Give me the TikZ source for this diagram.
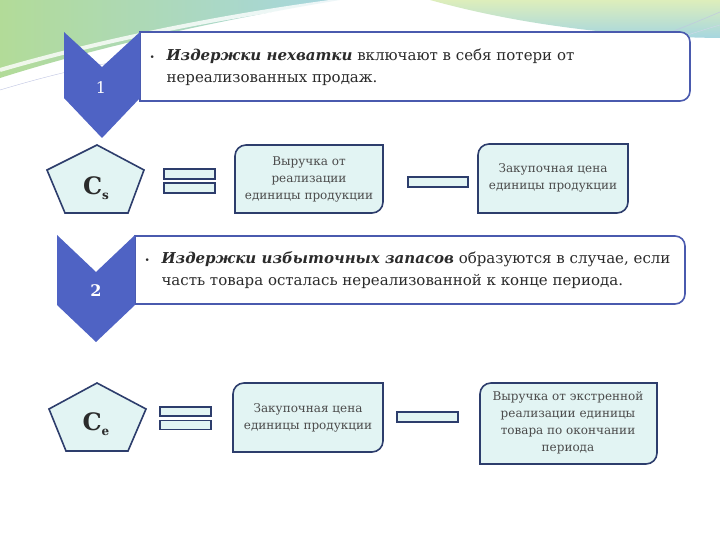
\documentclass[tikz,border=0pt]{standalone}
\usepackage{fontspec}
\setmainfont{DejaVu Serif}
\definecolor{chevblue}{HTML}{4F63C4}
\definecolor{frame}{HTML}{4A5AAE}
\definecolor{navy}{HTML}{2D3D6C}
\definecolor{pale}{HTML}{E2F4F3}
\definecolor{ink}{HTML}{2B2B2B}
\definecolor{leafgreen}{HTML}{B2DB98}
\definecolor{skyblue}{HTML}{A6D6E0}
\definecolor{lime}{HTML}{DDEEBB}
\newcommand{\cellbox}[4]{%
  \draw[cell] (#1,#2) -- (#1,#4-11) arc[start angle=180,end angle=90,radius=11]
    -- (#3,#4) -- (#3,#2+11) arc[start angle=0,end angle=-90,radius=11] -- cycle;}
\newcommand{\notebox}[4]{%
  \draw[note] (#1,#2) -- (#1,#4) -- (#3-10,#4) arc[start angle=90,end angle=0,radius=10]
    -- (#3,#2+10) arc[start angle=0,end angle=-90,radius=10] -- cycle;}

\begin{document}
\begin{tikzpicture}[x=1pt,y=1pt,
  every node/.style={text=ink},
  chev/.style={fill=chevblue},
  note/.style={draw=frame,line width=1.6pt,fill=white},
  cell/.style={draw=navy,line width=1.6pt,fill=pale},
  bar/.style={draw=navy,line width=1.4pt,fill=pale,inner sep=0pt},
  celltext/.style={align=center,font=\fontsize{12}{17}\selectfont,text=ink!85},
  notetext/.style={anchor=west,align=left,font=\fontsize{15}{22}\selectfont},
  num/.style={text=white,font=\fontsize{16}{16}\selectfont},
  letter/.style={font=\fontsize{24}{24}\selectfont\bfseries}]
\useasboundingbox (0,0) rectangle (720,540);
\fill[white] (0,0) rectangle (720,540);
% top band
\shade[left color=leafgreen,right color=skyblue]
  (0,540) -- (340,540) .. controls (250,525) and (120,500) .. (0,462) -- cycle;
\shade[top color=lime,bottom color=skyblue]
  (430,540) -- (720,540) -- (720,502) .. controls (620,503) and (520,515) .. (430,540) -- cycle;
\draw[white,line width=4pt,opacity=.8] (0,470) .. controls (120,505) and (250,528) .. (345,540);
\draw[frame!35] (0,450) .. controls (40,462) and (80,472) .. (115,478);
\draw[frame!35] (585,478) .. controls (640,495) and (690,515) .. (720,528);
\draw[frame!25] (600,478) .. controls (650,492) and (695,508) .. (720,515);

% row 1
\notebox{140}{439}{690}{508}
\node[notetext] (t1) at (146,473) {\makebox[17pt][l]{\small\textbullet}\textbf{\textit{Издержки нехватки}} включают в себя потери от\\
  \hspace*{17pt}нереализованных продаж.};
\fill[chev] (64,508) -- (102,473) -- (140,508) -- (140,442) -- (102,402) -- (64,442) -- cycle;
\node[num] (k1) at (101,452) {1};
\draw[cell] (97,395) -- (144,370) -- (128,327) -- (65,327) -- (47,370) -- cycle;
\node[letter] (cs) at (96,352) {C\raisebox{-5pt}{\fontsize{12}{12}\selectfont s}};
\foreach \y/\n in {366/a,352/b}{\node[bar,minimum width=51,minimum height=10] (eq1\n) at (189.5,\y) {};}
\cellbox{235}{327}{383}{395}
\node[celltext] (rev1) at (309,361) {Выручка от\\реализации\\единицы продукции};
\node[bar,minimum width=60,minimum height=10] (mi1) at (438,358) {};
\cellbox{478}{327}{628}{396}
\node[celltext] (buy1) at (553,362) {Закупочная цена\\единицы продукции};

% row 2
\notebox{135}{236}{685}{304}
\node[notetext] (t2) at (141,270) {\makebox[17pt][l]{\small\textbullet}\textbf{\textit{Издержки избыточных запасов}} образуются в случае, если\\
  \hspace*{17pt}часть товара осталась нереализованной к конце периода.};
\fill[chev] (57,305) -- (96,268) -- (135,305) -- (135,235) -- (96,198) -- (57,235) -- cycle;
\node[num,font=\fontsize{16}{16}\selectfont\bfseries] (k2) at (96,249) {2};
\draw[cell] (97,157) -- (146,131) -- (128,89) -- (66,89) -- (49,131) -- cycle;
\node[letter] (ce) at (96,116) {C\raisebox{-5pt}{\fontsize{12}{12}\selectfont e}};
\foreach \y/\n in {128.5/a,115/b}{\node[bar,minimum width=51,minimum height=9] (eq2\n) at (185.5,\y) {};}
\cellbox{233}{88}{383}{157}
\node[celltext] (buy2) at (308,122) {Закупочная цена\\единицы продукции};
\node[bar,minimum width=61,minimum height=10] (mi2) at (427.5,123) {};
\cellbox{480}{76}{657}{157}
\node[celltext] (rev2) at (568,117) {Выручка от экстренной\\реализации единицы\\товара по окончании\\периода};
\end{tikzpicture}
\end{document}
